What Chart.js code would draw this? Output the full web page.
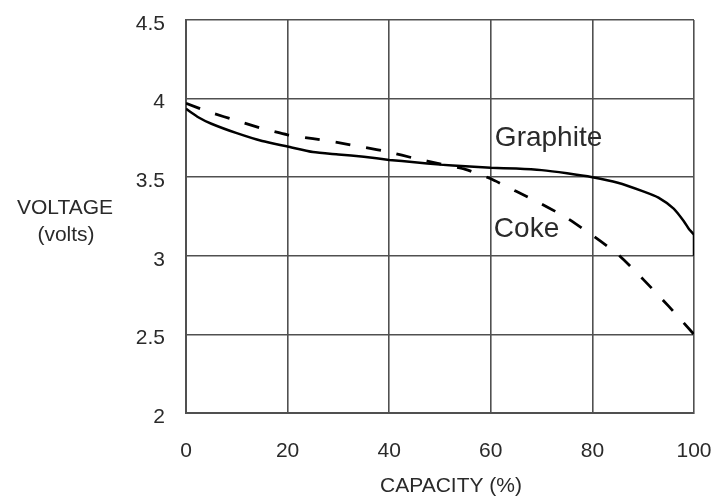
<!DOCTYPE html>
<html>
<head>
<meta charset="utf-8">
<script src="https://cdn.jsdelivr.net/npm/chart.js@4.4.0/dist/chart.umd.min.js"></script>
<style>
  html, body { margin: 0; padding: 0; background: #fff; }
  #wrap { width: 716px; height: 499px; }
</style>
</head>
<body>
<div id="wrap"><canvas id="voltageChart"></canvas></div>
<script>
const xTicks = [0, 20, 40, 60, 80, 100];
const yTicks = [2, 2.5, 3, 3.5, 4, 4.5];
const yTickLabels = ['2', '2.5', '3', '3.5', '4', '4.5'];

const graphiteCapacity = [0, 2.5, 5, 10, 15, 20, 25, 30, 35, 40, 45, 50, 55, 60, 65, 70, 75, 80, 85, 90, 93, 96, 98, 99, 100, 100];
const graphiteVoltage  = [3.935, 3.88, 3.84, 3.78, 3.73, 3.695, 3.66, 3.645, 3.63, 3.61, 3.595, 3.58, 3.57, 3.56, 3.555, 3.545, 3.525, 3.5, 3.465, 3.41, 3.37, 3.3, 3.22, 3.17, 3.13, 3.0];

const cokeCapacity = [0, 5, 10, 15, 20, 25, 30, 35, 40, 45, 50, 55, 60, 65, 70, 75, 80, 85, 90, 95, 100];
const cokeVoltage  = [3.97, 3.91, 3.86, 3.81, 3.77, 3.745, 3.72, 3.69, 3.66, 3.62, 3.585, 3.55, 3.49, 3.41, 3.33, 3.24, 3.13, 3.01, 2.85, 2.68, 2.5];

const curveLabels = [
    { text: 'Graphite', x: 60.8, y: 3.745 },
    { text: 'Coke', x: 60.6, y: 3.17 }
];

const gridColor = '#505050';
const textColor = '#2a2a2a';
const fontFamily = 'Arial, "Liberation Sans", sans-serif';

function toPoints(xs, ys) {
    return xs.map((x, i) => ({ x: x, y: ys[i] }));
}

// axis titles (horizontal on the left) and curve names
const textPlugin = {
    id: 'textPlugin',
    afterDraw(chart) {
        const { ctx, chartArea, scales } = chart;
        ctx.save();
        ctx.fillStyle = textColor;
        ctx.textBaseline = 'middle';

        ctx.font = '28px ' + fontFamily;
        ctx.textAlign = 'left';
        curveLabels.forEach(l => {
            ctx.fillText(l.text, scales.x.getPixelForValue(l.x), scales.y.getPixelForValue(l.y));
        });

        ctx.font = '21px ' + fontFamily;
        ctx.textAlign = 'center';
        ctx.fillText('VOLTAGE', chartArea.left - 121, scales.y.getPixelForValue(3.305));
        ctx.fillText('(volts)', chartArea.left - 120, scales.y.getPixelForValue(3.13));
        ctx.fillText('CAPACITY (%)', (chartArea.left + chartArea.right) / 2 + 11, chartArea.bottom + 73);
        ctx.restore();
    }
};

new Chart('voltageChart', {
    type: 'scatter',
    data: {
        datasets: [
            {
                label: 'Graphite',
                data: toPoints(graphiteCapacity, graphiteVoltage),
                showLine: true,
                borderColor: '#000',
                borderWidth: 2.5,
                pointRadius: 0,
                tension: 0.2
            },
            {
                label: 'Coke',
                data: toPoints(cokeCapacity, cokeVoltage),
                showLine: true,
                borderColor: '#000',
                borderWidth: 2.8,
                borderDash: [15, 16],
                pointRadius: 0,
                tension: 0.2
            }
        ]
    },
    options: {
        responsive: true,
        maintainAspectRatio: false,
        animation: false,
        layout: { padding: { top: 20, right: 22, left: 0, bottom: 0 } },
        plugins: {
            legend: { display: false },
            tooltip: { enabled: false }
        },
        scales: {
            x: {
                type: 'linear',
                min: 0,
                max: 100,
                afterFit: scale => {
                    scale.height = 86;
                    scale.paddingLeft = 0;
                    scale.paddingRight = 0;
                },
                afterBuildTicks: scale => { scale.ticks = xTicks.map(v => ({ value: v })); },
                ticks: {
                    color: textColor,
                    padding: 26,
                    font: { family: fontFamily, size: 21 },
                    maxRotation: 0
                },
                grid: { color: gridColor, lineWidth: 1.6, drawTicks: false },
                border: { color: gridColor, width: 2 }
            },
            y: {
                type: 'linear',
                min: 2,
                max: 4.5,
                afterFit: scale => {
                    scale.width = 186;
                    scale.paddingTop = 0;
                    scale.paddingBottom = 0;
                },
                afterBuildTicks: scale => { scale.ticks = yTicks.map(v => ({ value: v })); },
                ticks: {
                    color: textColor,
                    padding: 21,
                    labelOffset: 4,
                    font: { family: fontFamily, size: 21 },
                    callback: (value, index) => yTickLabels[index]
                },
                grid: { color: gridColor, lineWidth: 1.6, drawTicks: false },
                border: { color: gridColor, width: 2 }
            }
        }
    },
    plugins: [textPlugin]
});
</script>
</body>
</html>
